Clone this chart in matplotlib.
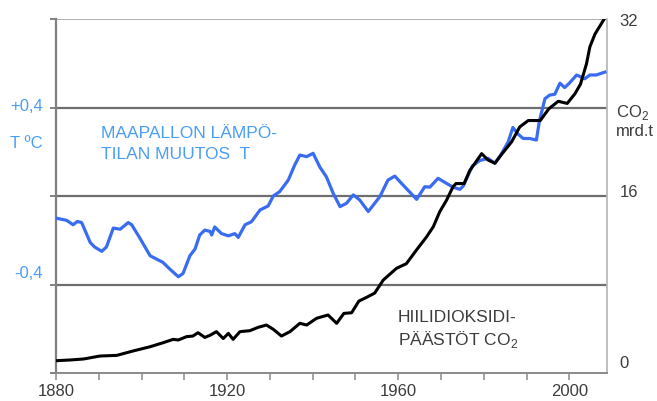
import matplotlib
matplotlib.use("Agg")
import matplotlib.pyplot as plt
from matplotlib.ticker import MultipleLocator

plt.rcParams['font.family'] = ['Liberation Sans', 'DejaVu Sans']
plt.rcParams['mathtext.fontset'] = 'custom'
plt.rcParams['mathtext.rm'] = 'Liberation Sans'

# Global temperature change (deg C)
temp_years = [1880, 1882.5, 1884, 1885, 1886, 1888, 1889, 1890.7, 1891.8, 1893.4,
              1895, 1896.9, 1897.7, 1899.6, 1902, 1903, 1905, 1906.6, 1908.6, 1909.7,
              1911.3, 1912.5, 1913.6, 1914.8, 1916, 1916.4, 1917.1, 1918.7, 1920.3, 1921.8,
              1922.6, 1924.2, 1925.7, 1927.7, 1929.6, 1930.8, 1932.3, 1934.3, 1935.8, 1937,
              1938.6, 1940.1, 1941.7, 1943.2, 1944.8, 1946.4, 1947.9, 1949.5, 1951, 1953,
              1955.7, 1957.6, 1959.2, 1961.5, 1964.3, 1966.2, 1967.4, 1969.3, 1971.3, 1972.8,
              1974.4, 1975.2, 1977.3, 1979, 1981, 1982.6, 1984.1, 1985.7, 1986.8, 1988,
              1989.2, 1990.7, 1992.3, 1993, 1994.3, 1995.4, 1996.6, 1997.8, 1998.9, 2000,
              2001.7, 2003.6, 2004.8, 2006.3, 2008.3]
temp_values = [-0.10, -0.11, -0.13, -0.115, -0.12, -0.21, -0.23, -0.25, -0.23, -0.145,
               -0.15, -0.12, -0.13, -0.19, -0.27, -0.28, -0.30, -0.33, -0.365, -0.35,
               -0.27, -0.24, -0.176, -0.154, -0.16, -0.176, -0.14, -0.17, -0.18, -0.17,
               -0.187, -0.13, -0.116, -0.063, -0.045, 0.0, 0.02, 0.072, 0.14, 0.185,
               0.178, 0.193, 0.13, 0.087, 0.012, -0.048, -0.033, 0.005, -0.018, -0.07,
               -0.003, 0.072, 0.09, 0.042, -0.015, 0.042, 0.04, 0.08, 0.057, 0.04,
               0.03, 0.045, 0.135, 0.16, 0.17, 0.148, 0.19, 0.245, 0.31, 0.28,
               0.26, 0.26, 0.253, 0.34, 0.44, 0.456, 0.46, 0.51, 0.49, 0.51,
               0.547, 0.53, 0.547, 0.547, 0.56]

# Carbon dioxide emissions (billion tonnes)
co2_years = [1880, 1883.3, 1886.4, 1890.3, 1894.2, 1898, 1902, 1905, 1907.4, 1908.6,
             1910.5, 1912, 1913.2, 1914.8, 1916, 1917.5, 1919.1, 1920.3, 1921.4, 1923,
             1925.3, 1927.3, 1929.2, 1930.8, 1932.7, 1934.7, 1937, 1938.6, 1940.9, 1943.6,
             1945.6, 1947.3, 1949.1, 1950.8, 1952.6, 1954.5, 1956.5, 1959.6, 1961.9, 1964.3,
             1966.6, 1968.2, 1969.7, 1971.3, 1972.8, 1973.5, 1975.4, 1976.7, 1979.5, 1981,
             1982.6, 1984.1, 1986.5, 1988.4, 1990.4, 1991.9, 1993.2, 1995.2, 1997.4, 1999.5,
             2001.3, 2002.6, 2004, 2004.8, 2006, 2008.3]
co2_values = [0.12, 0.19, 0.28, 0.56, 0.62, 1.03, 1.43, 1.8, 2.12, 2.06,
              2.37, 2.43, 2.74, 2.3, 2.5, 2.84, 2.2, 2.68, 2.12, 2.84,
              2.93, 3.25, 3.46, 3.06, 2.43, 2.84, 3.62, 3.46, 4.09, 4.4,
              3.62, 4.55, 4.61, 5.7, 6.05, 6.45, 7.67, 8.77, 9.2, 10.5,
              11.7, 12.66, 14.06, 15.15, 16.4, 16.7, 16.7, 17.9, 19.5, 18.9,
              18.6, 19.4, 20.6, 22.0, 22.6, 22.6, 22.6, 23.7, 24.4, 24.2,
              25.1, 26.0, 27.9, 29.5, 30.7, 32.2]

x_labels = [1880, 1920, 1960, 2000]
temp_gridlines = [-0.4, 0.0, 0.4]
co2_ticks = [0, 16, 32]

BLUE_LINE = '#3a6cf2'
BLUE_TEXT = '#4a9df7'
DARK_TEXT = '#3c3c3c'
GRID = '#6e6e6e'

fig = plt.figure(figsize=(6.57, 4.01), dpi=100)
ax = fig.add_axes([0.0852, 0.0698, 0.8387, 0.8828])
ax.set_xlim(1880, 2008.8)
ax.set_ylim(-0.8, 0.8)

# horizontal reference lines
for g in temp_gridlines:
    ax.axhline(g, color=GRID, lw=1.6, zorder=1)
ax.axhline(0.8, color='#a8a8a8', lw=1.3, zorder=1)

for side in ['top']:
    ax.spines[side].set_visible(False)
ax.spines['left'].set_color('#808080')
ax.spines['left'].set_linewidth(1.6)
ax.spines['bottom'].set_color('#8a8a8a')
ax.spines['bottom'].set_linewidth(1.4)
ax.spines['right'].set_color('#b4b4b4')
ax.spines['right'].set_linewidth(1.2)

ax.set_yticks([-0.8, -0.4, 0.0, 0.4, 0.8])
ax.tick_params(axis='y', which='both', direction='out', length=4, width=1.3,
               color='#777777', labelleft=False)
ax.set_xticks(x_labels)
ax.xaxis.set_minor_locator(MultipleLocator(10))
ax.tick_params(axis='x', which='both', direction='out', length=5, width=1.1,
               color='#8a8a8a', labelsize=12, labelcolor=DARK_TEXT, pad=3)

ax.plot(temp_years, temp_values, color=BLUE_LINE, lw=2.3, zorder=3,
        solid_joinstyle='round')

ax2 = ax.twinx()
ax2.set_ylim(-1.03, 32.1)
for s in ax2.spines.values():
    s.set_visible(False)
ax2.set_yticks(co2_ticks)
ax2.set_yticklabels([str(v) for v in co2_ticks])
ax2.tick_params(axis='y', length=0, pad=9, labelsize=12, labelcolor=DARK_TEXT)
ax2.plot(co2_years, co2_values, color='black', lw=2.2, zorder=4,
         solid_joinstyle='round')

# axis captions
fig.text(43 / 657, 1 - 107 / 401, '+0,4', color=BLUE_TEXT, fontsize=12,
         ha='right', va='center')
fig.text(43 / 657, 1 - 143 / 401, 'T ºC', color=BLUE_TEXT, fontsize=12,
         ha='right', va='center')
fig.text(43 / 657, 1 - 273 / 401, '-0,4', color=BLUE_TEXT, fontsize=12,
         ha='right', va='center')
fig.text(616 / 657, 1 - 113 / 401, 'CO$_2$', color=DARK_TEXT, fontsize=12,
         ha='left', va='center')
fig.text(616 / 657, 1 - 131 / 401, 'mrd.t', color=DARK_TEXT, fontsize=12,
         ha='left', va='center')

# series captions
fig.text(101 / 657, 1 - 133 / 401, 'MAAPALLON LÄMPÖ-', color=BLUE_TEXT,
         fontsize=12.5, ha='left', va='center')
fig.text(101 / 657, 1 - 154 / 401, 'TILAN MUUTOS  T', color=BLUE_TEXT,
         fontsize=12.5, ha='left', va='center')
fig.text(398 / 657, 1 - 318 / 401, 'HIILIDIOKSIDI-', color=DARK_TEXT,
         fontsize=12.5, ha='left', va='center')
fig.text(398 / 657, 1 - 340 / 401, 'PÄÄSTÖT CO$_2$', color=DARK_TEXT,
         fontsize=12.5, ha='left', va='center')

fig.savefig('out.png', dpi=100)
